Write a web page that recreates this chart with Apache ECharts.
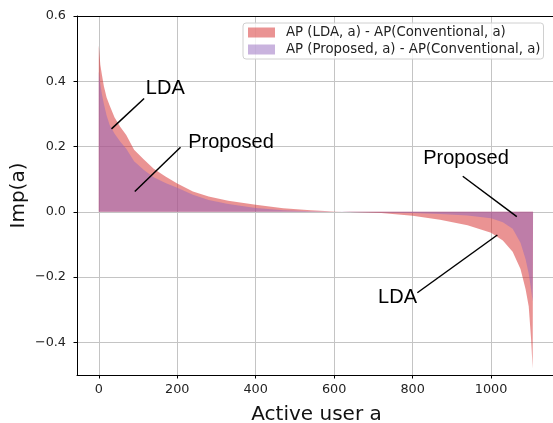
<!DOCTYPE html>
<html>
<head>
<meta charset="utf-8">
<title>Imp(a)</title>
<script src="https://cdn.jsdelivr.net/npm/echarts@6/dist/echarts.min.js"></script>
<style>
  html, body { margin: 0; padding: 0; background: #fff; }
  #chart { width: 553px; height: 423px; }
</style>
</head>
<body>
<div id="chart"></div>
<script>
// active users (sorted by improvement)
const users = [0, 4, 8, 13, 20, 28, 40, 55, 70, 90, 115, 140, 170, 200, 240, 280, 330, 400, 470, 540, 600, 660, 720, 800, 870, 940, 1000, 1030, 1055, 1075, 1088, 1096, 1102, 1106, 1107]
const ldaImp = [0.51, 0.45, 0.42, 0.385, 0.35, 0.325, 0.29, 0.26, 0.235, 0.19, 0.16, 0.132, 0.108, 0.087, 0.062, 0.047, 0.034, 0.022, 0.011, 0.005, 0.001, -0.001, -0.004, -0.012, -0.024, -0.041, -0.064, -0.088, -0.122, -0.175, -0.237, -0.29, -0.39, -0.48, -0.48]
const propImp = [0.43, 0.39, 0.36, 0.33, 0.295, 0.265, 0.24, 0.215, 0.193, 0.155, 0.128, 0.106, 0.088, 0.074, 0.052, 0.036, 0.024, 0.012, 0.005, 0.002, 0.0, -0.001, -0.002, -0.004, -0.007, -0.011, -0.02, -0.032, -0.052, -0.095, -0.145, -0.19, -0.237, -0.275, -0.275]

const seriesNames = ['AP (LDA, a) - AP(Conventional, a)', 'AP (Proposed, a) - AP(Conventional, a)']
const xTicks = [0, 200, 400, 600, 800, 1000]
const yTicks = [-0.4, -0.2, 0.0, 0.2, 0.4, 0.6]

// annotations: label anchor (left, middle) and arrow from -> to, in data units
const annoText = ['LDA', 'Proposed', 'Proposed', 'LDA']
const annoPos = [[120, 0.378], [228, 0.213], [827, 0.162], [712, -0.262]]
const annoFrom = [[115.6, 0.347], [208.4, 0.198], [927.8, 0.109], [812, -0.248]]
const annoTo = [[32.4, 0.254], [91.8, 0.062], [1065.6, -0.015], [1016, -0.071]]

const chart = echarts.init(document.getElementById('chart'))

const tickFont = { fontFamily: 'DejaVu Sans', fontSize: 12.8, color: '#222' }
const fmt = v => v.toFixed(1).replace('-', '\u2212')

chart.setOption({
    animation: false,
    grid: {
        left: 77,
        top: 16,
        width: 479,
        bottom: 48,
        outerBoundsMode: 'none',
        containLabel: false,
        show: false,
    },
    legend: {
        orient: 'vertical',
        left: 243,
        top: 23,
        data: seriesNames,
        icon: 'rect',
        itemWidth: 27,
        itemHeight: 10,
        itemGap: 4,
        padding: [3, 3, 3, 5],
        backgroundColor: 'rgba(255,255,255,0.8)',
        borderColor: '#d0d0d0',
        borderWidth: 1,
        borderRadius: 3,
        textStyle: {
            fontFamily: 'DejaVu Sans',
            fontSize: 13.3,
            color: '#222',
            padding: [0, 0, 0, 6],
        },
    },
    xAxis: [
        {
            type: 'value',
            min: -55.5,
            max: 1165.5,
            z: 3,
            name: 'Active user a',
            nameLocation: 'middle',
            nameGap: 30,
            nameMoveOverlap: false,
            nameTextStyle: { fontFamily: 'DejaVu Sans', fontSize: 20, color: '#111' },
            axisLine: { onZero: false, lineStyle: { color: '#000', width: 1 } },
            axisTick: { customValues: xTicks, length: 3.5, lineStyle: { color: '#000' } },
            axisLabel: Object.assign({ customValues: xTicks, margin: 8, formatter: v => String(v) }, tickFont),
            splitLine: { show: true, customValues: xTicks, lineStyle: { color: '#c4c4c4', width: 1 } },
        },
        {
            // top spine only
            type: 'value',
            position: 'top',
            min: -55.5,
            max: 1165.5,
            z: 3,
            axisLine: { show: true, onZero: false, lineStyle: { color: '#000', width: 1 } },
            axisTick: { show: false },
            axisLabel: { show: false },
            splitLine: { show: false },
        },
    ],
    yAxis: {
        type: 'value',
        min: -0.5,
        max: 0.6,
        z: 3,
        name: 'Imp(a)',
        nameLocation: 'middle',
        nameRotate: 90,
        nameGap: 48,
        nameMoveOverlap: false,
        nameTextStyle: { fontFamily: 'DejaVu Sans', fontSize: 20, color: '#111' },
        axisLine: { show: true, onZero: false, lineStyle: { color: '#000', width: 1 } },
        axisTick: { show: true, customValues: yTicks, length: 3.5, lineStyle: { color: '#000' } },
        axisLabel: Object.assign({ customValues: yTicks, margin: 11, formatter: fmt }, tickFont),
        splitLine: { show: true, customValues: yTicks, lineStyle: { color: '#c4c4c4', width: 1 } },
    },
    series: [
        {
            name: seriesNames[0],
            type: 'line',
            data: users.map((u, i) => [u, ldaImp[i]]),
            showSymbol: false,
            lineStyle: { width: 0 },
            itemStyle: { color: 'rgba(214,39,40,0.5)' },
            areaStyle: { color: 'rgb(214,39,40)', opacity: 0.5 },
        },
        {
            name: seriesNames[1],
            type: 'line',
            data: users.map((u, i) => [u, propImp[i]]),
            showSymbol: false,
            lineStyle: { width: 0 },
            itemStyle: { color: 'rgba(148,103,189,0.5)' },
            areaStyle: { color: 'rgb(148,103,189)', opacity: 0.5 },
        },
        {
            name: 'annotations',
            type: 'line',
            data: [],
            z: 5,
            markLine: {
                silent: true,
                symbol: ['none', 'none'],
                label: { show: false },
                lineStyle: { color: '#000', width: 1.5, type: 'solid' },
                data: annoFrom.map((p, i) => [{ coord: p }, { coord: annoTo[i] }]),
            },
            markPoint: {
                silent: true,
                symbolSize: 0,
                data: annoText.map((t, i) => ({
                    coord: annoPos[i],
                    label: {
                        show: true,
                        formatter: t,
                        position: [0, 0],
                        align: 'left',
                        verticalAlign: 'middle',
                        fontFamily: 'Liberation Sans',
                        fontSize: 20,
                        color: '#000',
                    },
                })),
            },
        },
    ],
})
</script>
</body>
</html>
